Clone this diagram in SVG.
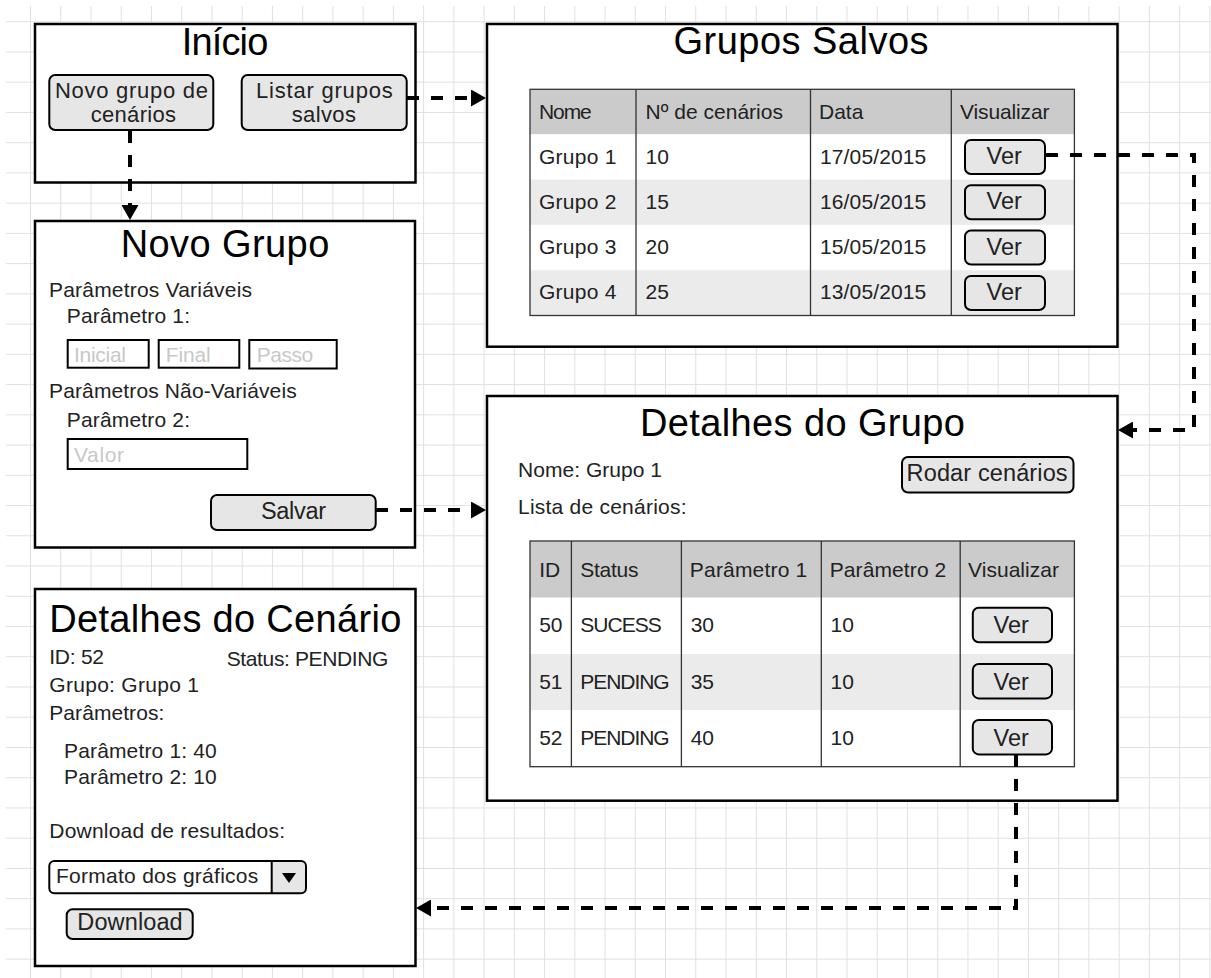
<svg xmlns="http://www.w3.org/2000/svg" width="1211" height="978" viewBox="0 0 1211 978">
<defs>
<style>
text{font-family:"Liberation Sans",Arial,sans-serif}
.grid{fill:none;stroke:#e0e0e0;stroke-width:1}
.box{fill:#fff;stroke:#000;stroke-width:2.5}
.btn{fill:#e6e6e6;stroke:#000;stroke-width:2}
.inp{fill:#fff;stroke:#000;stroke-width:2}
.title{font-size:38px;fill:#000}
.btxt{font-size:23.5px;fill:#222}
.btxt2{font-size:22px;fill:#222}
.txt{font-size:21px;fill:#222}
.ph{font-size:21px;fill:#c8c8c8}
.tbl{fill:none;stroke:#333;stroke-width:1.3}
.hdr{fill:#cbcbcb}
.alt{fill:#ebebeb}
.conn{fill:none;stroke:#000;stroke-width:4;stroke-dasharray:12 12}
</style>
<marker id="arr" markerUnits="userSpaceOnUse" viewBox="0 0 15 17" markerWidth="15" markerHeight="17" refX="0" refY="8.5" orient="auto">
<path d="M0,0 L15,8.5 L0,17 Z" fill="#000"/>
</marker>
</defs>
<rect width="1211" height="978" fill="#fff"/>
<g id="grid">
<path class="grid" d="M30.5 6V978M60.74 6V978M90.98 6V978M121.22 6V978M151.46 6V978M181.7 6V978M211.94 6V978M242.18 6V978M272.42 6V978M302.66 6V978M332.9 6V978M363.14 6V978M393.38 6V978M423.62 6V978M453.86 6V978M484.1 6V978M514.34 6V978M544.58 6V978M574.82 6V978M605.06 6V978M635.3 6V978M665.54 6V978M695.78 6V978M726.02 6V978M756.26 6V978M786.5 6V978M816.74 6V978M846.98 6V978M877.22 6V978M907.46 6V978M937.7 6V978M967.94 6V978M998.18 6V978M1028.42 6V978M1058.66 6V978M1088.9 6V978M1119.14 6V978M1149.38 6V978M1179.62 6V978M1209.86 6V978"/>
<path class="grid" d="M6 21.7H1211M6 51.94H1211M6 82.18H1211M6 112.42H1211M6 142.66H1211M6 172.9H1211M6 203.14H1211M6 233.38H1211M6 263.62H1211M6 293.86H1211M6 324.1H1211M6 354.34H1211M6 384.58H1211M6 414.82H1211M6 445.06H1211M6 475.3H1211M6 505.54H1211M6 535.78H1211M6 566.02H1211M6 596.26H1211M6 626.5H1211M6 656.74H1211M6 686.98H1211M6 717.22H1211M6 747.46H1211M6 777.7H1211M6 807.94H1211M6 838.18H1211M6 868.42H1211M6 898.66H1211M6 928.9H1211M6 959.14H1211"/>
</g>

<g id="node-inicio">
<rect class="box" x="35" y="24" width="380.5" height="158.5"/>
<text class="title" x="181.7" y="55" textLength="86.6">Início</text>
<rect class="btn" x="49.3" y="75" width="164" height="55" rx="6"/>
<text class="btxt2" x="55" y="98.3" textLength="153">Novo grupo de</text>
<text class="btxt2" x="90.7" y="121.5" textLength="85.3">cenários</text>
<rect class="btn" x="241.7" y="75" width="165" height="55" rx="6"/>
<text class="btxt2" x="256" y="98.3" textLength="136.7">Listar grupos</text>
<text class="btxt2" x="291.7" y="121.5" textLength="64.3">salvos</text>
</g>

<g id="node-novo-grupo">
<rect class="box" x="35" y="221" width="380" height="326.5"/>
<text class="title" x="120.7" y="256.7" textLength="208.6">Novo Grupo</text>
<text class="txt" x="49" y="296.7" textLength="203">Parâmetros Variáveis</text>
<text class="txt" x="66.7" y="323.3" textLength="123.3">Parâmetro 1:</text>
<rect class="inp" x="67.7" y="340" width="81" height="27.7"/>
<text class="ph" x="74" y="361.7" textLength="52">Inicial</text>
<rect class="inp" x="158.7" y="340" width="80.6" height="27.7"/>
<text class="ph" x="165.7" y="361.7" textLength="45">Final</text>
<rect class="inp" x="249.3" y="340" width="87.4" height="28.5"/>
<text class="ph" x="256.7" y="361.7" textLength="56.6">Passo</text>
<text class="txt" x="49" y="398.3" textLength="247.7">Parâmetros Não-Variáveis</text>
<text class="txt" x="66.7" y="426.7" textLength="123.3">Parâmetro 2:</text>
<rect class="inp" x="67.7" y="439" width="179.6" height="30"/>
<text class="ph" x="74" y="461.7" textLength="50">Valor</text>
<rect class="btn" x="211" y="495" width="164.7" height="35" rx="6"/>
<text class="btxt" x="261" y="519.3" textLength="65">Salvar</text>
</g>

<g id="node-grupos-salvos">
<rect class="box" x="487" y="24" width="630.5" height="322.7"/>
<text class="title" x="673.5" y="54.3" textLength="255">Grupos Salvos</text>
<rect class="hdr" x="530" y="89.3" width="544.4" height="45"/>
<rect fill="#fff" x="530" y="134.3" width="544.4" height="45.3"/>
<rect class="alt" x="530" y="179.6" width="544.4" height="45.3"/>
<rect fill="#fff" x="530" y="224.9" width="544.4" height="45.3"/>
<rect class="alt" x="530" y="270.2" width="544.4" height="45.3"/>
<rect class="tbl" x="530" y="89.3" width="544.4" height="226.2"/>
<path class="tbl" d="M636 89.3V315.5M810.5 89.3V315.5M951.3 89.3V315.5"/>
<text class="txt" x="539" y="119" textLength="52.7">Nome</text>
<text class="txt" x="645.5" y="119" textLength="137.5">Nº de cenários</text>
<text class="txt" x="819" y="119">Data</text>
<text class="txt" x="960" y="119" textLength="89.5">Visualizar</text>
<text class="txt" x="539" y="163.5" textLength="77.4">Grupo 1</text>
<text class="txt" x="645.5" y="163.5">10</text>
<text class="txt" x="820" y="163.5" textLength="106.3">17/05/2015</text>
<text class="txt" x="539" y="208.8" textLength="77.4">Grupo 2</text>
<text class="txt" x="645.5" y="208.8">15</text>
<text class="txt" x="820" y="208.8" textLength="106.3">16/05/2015</text>
<text class="txt" x="539" y="254.1" textLength="77.4">Grupo 3</text>
<text class="txt" x="645.5" y="254.1">20</text>
<text class="txt" x="820" y="254.1" textLength="106.3">15/05/2015</text>
<text class="txt" x="539" y="299.4" textLength="77.4">Grupo 4</text>
<text class="txt" x="645.5" y="299.4">25</text>
<text class="txt" x="820" y="299.4" textLength="106.3">13/05/2015</text>
<rect class="btn" x="965" y="140" width="80" height="34" rx="6"/>
<text class="btxt" x="986.5" y="164">Ver</text>
<rect class="btn" x="965" y="185.3" width="80" height="34" rx="6"/>
<text class="btxt" x="986.5" y="209.3">Ver</text>
<rect class="btn" x="965" y="230.5" width="80" height="34" rx="6"/>
<text class="btxt" x="986.5" y="254.5">Ver</text>
<rect class="btn" x="965" y="276" width="80" height="34" rx="6"/>
<text class="btxt" x="986.5" y="300">Ver</text>
</g>

<g id="node-detalhes-grupo">
<rect class="box" x="487" y="396" width="630.5" height="404.7"/>
<text class="title" x="640" y="436" textLength="325">Detalhes do Grupo</text>
<text class="txt" x="518" y="476.7" textLength="144">Nome: Grupo 1</text>
<text class="txt" x="518" y="514.3" textLength="168.5">Lista de cenários:</text>
<rect class="btn" x="902" y="457" width="171.5" height="35.5" rx="6"/>
<text class="btxt" x="906.6" y="480.7" textLength="161">Rodar cenários</text>
<rect class="hdr" x="530" y="541" width="544.4" height="56.7"/>
<rect fill="#fff" x="530" y="597.7" width="544.4" height="56.3"/>
<rect class="alt" x="530" y="654" width="544.4" height="56.3"/>
<rect fill="#fff" x="530" y="710.3" width="544.4" height="56.4"/>
<rect class="tbl" x="530" y="541" width="544.4" height="225.7"/>
<path class="tbl" d="M571.4 541V766.7M681.4 541V766.7M821.3 541V766.7M960.2 541V766.7"/>
<text class="txt" x="539.2" y="576.7">ID</text>
<text class="txt" x="580.2" y="576.7" textLength="58.3">Status</text>
<text class="txt" x="689.8" y="576.7" textLength="117.5">Parâmetro 1</text>
<text class="txt" x="829.7" y="576.7" textLength="116.6">Parâmetro 2</text>
<text class="txt" x="968" y="576.7" textLength="91">Visualizar</text>
<text class="txt" x="539.2" y="632.3">50</text>
<text class="txt" x="580.2" y="632.3" textLength="81.6">SUCESS</text>
<text class="txt" x="690.7" y="632.3">30</text>
<text class="txt" x="830.6" y="632.3">10</text>
<text class="txt" x="539.2" y="688.7">51</text>
<text class="txt" x="580.2" y="688.7" textLength="89.5">PENDING</text>
<text class="txt" x="690.7" y="688.7">35</text>
<text class="txt" x="830.6" y="688.7">10</text>
<text class="txt" x="539.2" y="745">52</text>
<text class="txt" x="580.2" y="745" textLength="89.5">PENDING</text>
<text class="txt" x="690.7" y="745">40</text>
<text class="txt" x="830.6" y="745">10</text>
<rect class="btn" x="972.8" y="607.7" width="79.2" height="34.6" rx="6"/>
<text class="btxt" x="993.5" y="633.3">Ver</text>
<rect class="btn" x="972.8" y="664" width="79.2" height="34.4" rx="6"/>
<text class="btxt" x="993.5" y="689.5">Ver</text>
<rect class="btn" x="972.8" y="720" width="79.2" height="34.4" rx="6"/>
<text class="btxt" x="993.5" y="745.7">Ver</text>
</g>

<g id="node-detalhes-cenario">
<rect class="box" x="35" y="589" width="380.5" height="377"/>
<text class="title" x="49.3" y="631.7" textLength="352">Detalhes do Cenário</text>
<text class="txt" x="49.3" y="664" textLength="54.7">ID: 52</text>
<text class="txt" x="226.7" y="666" textLength="161.7">Status: PENDING</text>
<text class="txt" x="49.3" y="692.3" textLength="149.7">Grupo: Grupo 1</text>
<text class="txt" x="49.3" y="720" textLength="115">Parâmetros:</text>
<text class="txt" x="64" y="757.7" textLength="152.7">Parâmetro 1: 40</text>
<text class="txt" x="64" y="784.3" textLength="152.7">Parâmetro 2: 10</text>
<text class="txt" x="49.3" y="838.3" textLength="235.7">Download de resultados:</text>
<rect x="49.3" y="861" width="256.7" height="32.3" rx="5" fill="#fff"/>
<path d="M271.7 861H301a5 5 0 0 1 5 5V888.3a5 5 0 0 1 -5 5H271.7Z" fill="#e6e6e6"/>
<path d="M271.7 861V893.3" stroke="#000" stroke-width="2" fill="none"/>
<rect x="49.3" y="861" width="256.7" height="32.3" rx="5" fill="none" stroke="#000" stroke-width="2"/>
<polygon points="282,873 296,873 289,883" fill="#000"/>
<text class="txt" x="56" y="883.3" textLength="202.3">Formato dos gráficos</text>
<rect class="btn" x="66.7" y="909.3" width="126" height="29.7" rx="6"/>
<text class="btxt" x="77.3" y="930" textLength="105.4">Download</text>
</g>

<g id="connectors">
<path class="conn" d="M130 131V205" marker-end="url(#arr)"/>
<path class="conn" d="M407 98H471" marker-end="url(#arr)"/>
<path class="conn" d="M1046 155H1194V430H1133" marker-end="url(#arr)"/>
<path class="conn" d="M376 510H471" marker-end="url(#arr)"/>
<path class="conn" d="M1016 755V908H431" marker-end="url(#arr)"/>
</g>
</svg>
